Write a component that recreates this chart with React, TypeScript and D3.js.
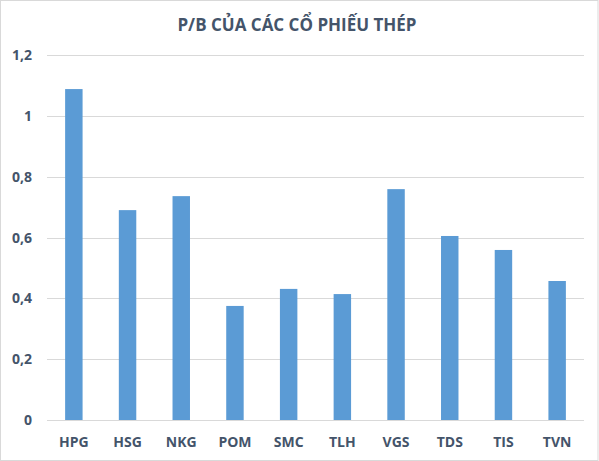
import React, { useRef, useEffect } from "react";
import * as d3 from "d3";

const tickers = ["HPG", "HSG", "NKG", "POM", "SMC", "TLH", "VGS", "TDS", "TIS", "TVN"];
const pbValues = [1.088, 0.69, 0.736, 0.375, 0.431, 0.414, 0.759, 0.605, 0.559, 0.457];
const yTicks = [0, 0.2, 0.4, 0.6, 0.8, 1, 1.2];
const chartTitle = "P/B CỦA CÁC CỔ PHIẾU THÉP";

const App: React.FC = () => {
  const svgRef = useRef<SVGSVGElement>(null);

  useEffect(() => {
    const width = 599;
    const height = 461;
    const margin = { top: 55, right: 15, bottom: 41, left: 47 };
    const font = "'Open Sans', sans-serif";
    const textColor = "#44546a";

    const svg = d3.select(svgRef.current);
    svg.selectAll("*").remove();
    svg.attr("width", width).attr("height", height);

    // outer frame
    svg.append("rect")
      .attr("x", 0.5)
      .attr("y", 0.5)
      .attr("width", width - 1.5)
      .attr("height", height - 1)
      .attr("fill", "#fff")
      .attr("stroke", "#d9d9d9");

    const x = d3.scaleBand()
      .domain(tickers)
      .range([margin.left, width - margin.right])
      .paddingInner(0.675)
      .paddingOuter(0.3375);

    const y = d3.scaleLinear()
      .domain([0, 1.2])
      .range([height - margin.bottom, margin.top]);

    // gridlines
    svg.append("g")
      .selectAll("line")
      .data(yTicks)
      .enter()
      .append("line")
      .attr("x1", margin.left)
      .attr("x2", width - margin.right)
      .attr("y1", d => Math.round(y(d)) + 0.5)
      .attr("y2", d => Math.round(y(d)) + 0.5)
      .attr("stroke", "#d9d9d9")
      .attr("stroke-width", 1);

    // y labels
    const fmt = (d: number) => String(d).replace(".", ",");
    svg.append("g")
      .selectAll("text")
      .data(yTicks)
      .enter()
      .append("text")
      .attr("x", 32)
      .attr("y", d => y(d))
      .attr("dy", "0.36em")
      .attr("text-anchor", "end")
      .attr("font-family", font)
      .attr("font-size", 14)
      .attr("font-weight", "bold")
      .attr("fill", textColor)
      .text(fmt);

    // bars
    svg.append("g")
      .selectAll("rect")
      .data(tickers)
      .enter()
      .append("rect")
      .attr("x", d => x(d) ?? 0)
      .attr("width", x.bandwidth())
      .attr("y", (d, i) => y(pbValues[i]))
      .attr("height", (d, i) => y(0) - y(pbValues[i]))
      .attr("fill", "#5b9bd5");

    // x labels
    svg.append("g")
      .selectAll("text")
      .data(tickers)
      .enter()
      .append("text")
      .attr("x", d => (x(d) ?? 0) + x.bandwidth() / 2)
      .attr("y", 447)
      .attr("text-anchor", "middle")
      .attr("font-family", font)
      .attr("font-size", 14)
      .attr("font-weight", "bold")
      .attr("fill", textColor)
      .text(d => d);

    // title
    svg.append("text")
      .attr("x", 297)
      .attr("y", 31)
      .attr("text-anchor", "middle")
      .attr("font-family", font)
      .attr("font-size", 17)
      .attr("font-weight", "bold")
      .attr("fill", textColor)
      .text(chartTitle);
  }, []);

  return (
    <svg
      ref={svgRef}
      style={{ position: "absolute", left: 0, top: 0, display: "block" }}
    />
  );
};

export default App;
